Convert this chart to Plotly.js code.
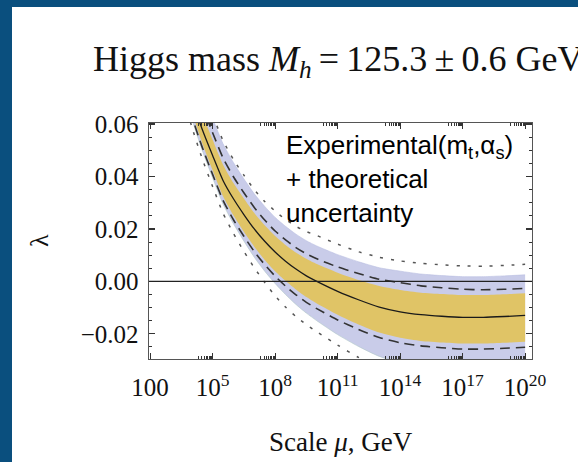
<!DOCTYPE html>
<html>
<head>
<meta charset="utf-8">
<script src="https://cdn.plot.ly/plotly-3.0.1.min.js"></script>
<style>
  html, body { margin: 0; padding: 0; background: #ffffff; }
  #frame { position: relative; width: 578px; height: 462px; background: #0a4f7e; overflow: hidden; }
  #chart { position: absolute; left: 12px; top: 7px; width: 566px; height: 455px; background: #ffffff; }
</style>
</head>
<body>
<div id="frame"><div id="chart"></div></div>
<script>
// Running Higgs quartic coupling lambda(mu) versus renormalisation scale, log10(mu / GeV)
const logMu = [3.5, 4, 4.5, 5, 5.5, 6, 6.5, 7, 7.5, 8, 8.5, 9, 9.5, 10, 11, 12, 13, 14, 15, 16, 17, 18, 19, 20];

// central value
const lambdaCentral = [0.0830, 0.0695, 0.0580, 0.0480, 0.0385, 0.0315, 0.0255, 0.0200, 0.0153, 0.0112, 0.0077, 0.0047, 0.0021, 0.0000, -0.0038, -0.0070, -0.0098, -0.0116, -0.0127, -0.0133, -0.0137, -0.0137, -0.0134, -0.0130];

// experimental band (m_t, alpha_s)
const expHigh = [0.0885, 0.0752, 0.0639, 0.0540, 0.0445, 0.0375, 0.0316, 0.0261, 0.0214, 0.0173, 0.0139, 0.0110, 0.0086, 0.0066, 0.0033, 0.0005, -0.0018, -0.0033, -0.0043, -0.0048, -0.0052, -0.0052, -0.0049, -0.0045];
const expLow = [0.0785, 0.0647, 0.0528, 0.0424, 0.0325, 0.0252, 0.0189, 0.0132, 0.0082, 0.0039, 0.0002, -0.0031, -0.0060, -0.0084, -0.0127, -0.0164, -0.0195, -0.0215, -0.0227, -0.0233, -0.0237, -0.0237, -0.0234, -0.0230];

// experimental + theoretical band
const totHigh = [0.0970, 0.0837, 0.0722, 0.0621, 0.0525, 0.0453, 0.0391, 0.0334, 0.0286, 0.0244, 0.0210, 0.0180, 0.0155, 0.0135, 0.0102, 0.0075, 0.0052, 0.0039, 0.0028, 0.0022, 0.0018, 0.0018, 0.0021, 0.0025];
const totLow = [0.0760, 0.0620, 0.0500, 0.0395, 0.0295, 0.0220, 0.0154, 0.0092, 0.0039, -0.0008, -0.0050, -0.0088, -0.0121, -0.0150, -0.0203, -0.0248, -0.0286, -0.0309, -0.0323, -0.0331, -0.0336, -0.0337, -0.0334, -0.0330];

// dashed curves
const dashHigh = [0.0915, 0.0782, 0.0668, 0.0567, 0.0471, 0.0399, 0.0338, 0.0282, 0.0234, 0.0192, 0.0158, 0.0129, 0.0105, 0.0086, 0.0055, 0.0030, 0.0008, -0.0005, -0.0017, -0.0024, -0.0030, -0.0032, -0.0030, -0.0027];
const dashLow = [0.0770, 0.0631, 0.0512, 0.0408, 0.0309, 0.0235, 0.0172, 0.0114, 0.0064, 0.0020, -0.0018, -0.0051, -0.0080, -0.0104, -0.0147, -0.0183, -0.0214, -0.0234, -0.0246, -0.0253, -0.0258, -0.0258, -0.0255, -0.0251];

// dotted curves
const dotHigh = [0.0990, 0.0855, 0.0738, 0.0635, 0.0537, 0.0465, 0.0405, 0.0350, 0.0305, 0.0268, 0.0236, 0.0210, 0.0190, 0.0175, 0.0142, 0.0113, 0.0092, 0.0078, 0.0069, 0.0063, 0.0059, 0.0058, 0.0061, 0.0065];
const dotLow = [0.0730, 0.0590, 0.0468, 0.0362, 0.0260, 0.0183, 0.0115, 0.0052, -0.0004, -0.0055, -0.0098, -0.0134, -0.0165, -0.0192, -0.0243, -0.0290, -0.0330, -0.0358, -0.0375, -0.0383, -0.0387, -0.0387, -0.0384, -0.0380];

// axis ticks
const xTickExp = [2, 5, 8, 11, 14, 17, 20];
const xTickText = ['100', '10<sup>5</sup>', '10<sup>8</sup>', '10<sup>11</sup>', '10<sup>14</sup>', '10<sup>17</sup>', '10<sup>20</sup>'];
const yTickVals = [-0.02, 0.00, 0.02, 0.04, 0.06];
const yTickText = ['\u22120.02', '0.00', '0.02', '0.04', '0.06'];

const mu = logMu.map(v => Math.pow(10, v));
const xTickVals = xTickExp.map(e => Math.pow(10, e));
const xMinor = [];
xTickExp.slice(1).forEach(e => { for (let k = 2; k <= 9; k++) xMinor.push(k * Math.pow(10, e - 1)); });

const SERIF = '"Liberation Serif", "Times New Roman", serif';
const SANS = '"Liberation Sans", Arial, sans-serif';
const BLUE_FILL = 'rgb(201,204,233)';
const GOLD_FILL = 'rgb(224,196,102)';

const base = { x: mu, mode: 'lines', hoverinfo: 'skip', showlegend: false };
const curve = (extra) => Object.assign({ shape: 'spline', smoothing: 0.6 }, extra);
const traces = [
  Object.assign({}, base, { y: totLow, line: curve({ width: 0.6, color: 'rgb(176,200,200)' }) }),
  Object.assign({}, base, { y: totHigh, fill: 'tonexty', fillcolor: BLUE_FILL, line: curve({ width: 0.6, color: 'rgb(185,190,225)' }) }),
  Object.assign({}, base, { y: expLow, line: curve({ width: 0, color: GOLD_FILL }) }),
  Object.assign({}, base, { y: expHigh, fill: 'tonexty', fillcolor: GOLD_FILL, line: curve({ width: 0, color: GOLD_FILL }) }),
  Object.assign({}, base, { y: dashHigh, line: curve({ width: 1.6, color: '#333333', dash: '10px,6px' }) }),
  Object.assign({}, base, { y: dashLow, line: curve({ width: 1.6, color: '#333333', dash: '10px,6px' }) }),
  Object.assign({}, base, { y: dotHigh, line: curve({ width: 1.5, color: '#555555', dash: '3px,8px' }) }),
  Object.assign({}, base, { y: dotLow, line: curve({ width: 1.5, color: '#555555', dash: '3px,8px' }) }),
  Object.assign({}, base, { y: lambdaCentral, line: curve({ width: 1.3, color: '#1a1a1a' }) })
];

const THIN = '\u2009';
const layout = {
  width: 566, height: 455,
  paper_bgcolor: '#ffffff', plot_bgcolor: '#ffffff',
  margin: { l: 137, r: 46, t: 116, b: 103, pad: 0 },
  hovermode: false,
  showlegend: false,
  title: {
    text: 'Higgs mass <i>M</i><sub><i>h</i></sub>' + THIN + '=' + THIN + '125.3' + THIN + '\u00b1' + THIN + '0.6 GeV',
    font: { family: SERIF, size: 36, color: '#111111' },
    xref: 'container', x: 0.143, xanchor: 'left',
    yref: 'container', y: 0.888, yanchor: 'middle'
  },
  xaxis: {
    type: 'log', range: [1.947, 20.33],
    tickmode: 'array', tickvals: xTickVals, ticktext: xTickText,
    ticks: 'inside', ticklen: 6, tickwidth: 1.2, tickcolor: '#333333',
    minor: { tickmode: 'array', tickvals: xMinor, ticks: 'inside', ticklen: 3, tickwidth: 1, tickcolor: '#333333', showgrid: false },
    showline: true, linecolor: '#555555', linewidth: 1.4, mirror: 'allticks',
    showgrid: false, zeroline: false,
    tickfont: { family: SERIF, size: 25, color: '#111111' },
    ticklabelstandoff: 6
  },
  yaxis: {
    range: [-0.0296, 0.0604],
    tickmode: 'array', tickvals: yTickVals, ticktext: yTickText,
    ticks: 'inside', ticklen: 6, tickwidth: 1.2, tickcolor: '#333333',
    minor: { dtick: 0.005, ticks: 'inside', ticklen: 3, tickwidth: 1, tickcolor: '#333333', showgrid: false },
    showline: true, linecolor: '#555555', linewidth: 1.4, mirror: 'allticks',
    showgrid: false, zeroline: false,
    tickfont: { family: SERIF, size: 25, color: '#111111' },
    ticklabelstandoff: 4
  },
  shapes: [
    { type: 'line', xref: 'paper', x0: 0, x1: 1, yref: 'y', y0: 0, y1: 0, line: { color: '#222222', width: 1.1 }, layer: 'above' }
  ],
  annotations: [
    {
      text: 'Experimental(m<sub>t</sub>,\u03b1<sub>s</sub>)<br>+ theoretical<br>uncertainty',
      xref: 'paper', yref: 'paper', x: 0.352, y: 0.978, xanchor: 'left', yanchor: 'top', align: 'left',
      showarrow: false, font: { family: SANS, size: 26, color: '#000000' }
    },
    {
      text: 'Scale <i>\u03bc</i>, GeV',
      xref: 'paper', yref: 'paper', x: 0.5, y: -0.35, xanchor: 'center', yanchor: 'middle',
      showarrow: false, font: { family: SERIF, size: 27, color: '#111111' }
    },
    {
      text: '\u03bb', textangle: -90,
      xref: 'paper', yref: 'paper', x: -0.287, y: 0.5, xanchor: 'center', yanchor: 'middle',
      showarrow: false, font: { family: SERIF, size: 26, color: '#111111' }
    }
  ]
};

Plotly.newPlot('chart', traces, layout, { staticPlot: true, displayModeBar: false });
</script>
</body>
</html>
